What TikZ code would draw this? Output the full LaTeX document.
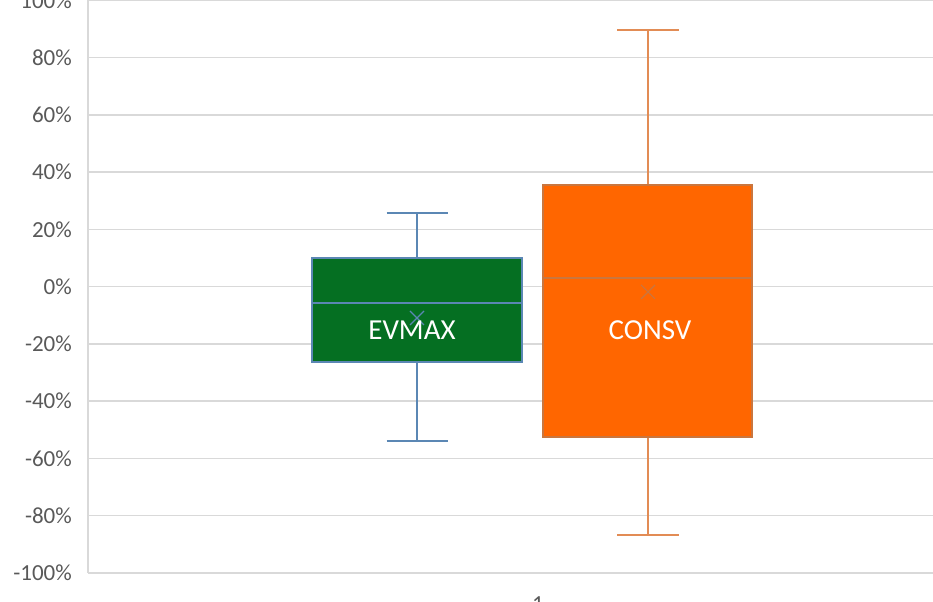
\documentclass[tikz,border=0pt]{standalone}
\usepackage{fontspec}
\setmainfont{Carlito}
\definecolor{GridGray}{HTML}{D9D9D9}
\definecolor{TickGray}{HTML}{595959}
\definecolor{EvGreen}{HTML}{056F22}
\definecolor{EvBlue}{HTML}{5B87B4}
\definecolor{ConsOrange}{HTML}{FF6600}
\definecolor{ConsEdge}{HTML}{C9763F}
\definecolor{ConsWhisk}{HTML}{E28C55}

\begin{document}
\begin{tikzpicture}[x=1pt, y=2.8625pt,
        gridline/.style={GridGray, line width=1.5pt},
        ticklabel/.style={anchor=east, inner sep=0pt, text=TickGray, font=\fontsize{23}{23}\selectfont},
        evline/.style={EvBlue, line width=1.5pt},
        consline/.style={ConsWhisk, line width=1.5pt},
        evbox/.style={fill=EvGreen, draw=EvBlue, line width=1.5pt},
        consbox/.style={fill=ConsOrange, draw=ConsEdge, line width=1.5pt},
        boxlabel/.style={anchor=base, inner sep=0pt, text=white, font=\fontsize{29}{29}\selectfont}]
        \useasboundingbox (0,-110.13) rectangle (933,100.17);

        % grid and axis
        \foreach \v in {-100,-80,...,100} {
            \draw[gridline] (88,\v) -- (933,\v);
            \node[ticklabel] (tick\v) at (72,\v) {\v\%};
        }
        \draw[gridline] (88,-100) -- (88,100);
        \node[anchor=base, inner sep=0pt, text=TickGray, font=\fontsize{23}{23}\selectfont] (cat) at (538,-113.3) {1};

        % EVMAX
        \coordinate (evtop) at (417,10.0);
        \coordinate (evbot) at (417,-26.3);
        \coordinate (evmax) at (417,25.8);
        \coordinate (evmin) at (417,-53.9);
        \draw[evline] (evtop) -- (evmax);
        \draw[evline] (evbot) -- (evmin);
        \draw[evline] ([xshift=-30.5pt]evmax) -- ([xshift=30.5pt]evmax);
        \draw[evline] ([xshift=-30.5pt]evmin) -- ([xshift=30.5pt]evmin);
        \draw[evbox] (312,-26.3) rectangle (522,10.0);
        \draw[evline] (312,-5.7) -- (522,-5.7);
        \coordinate (evmean) at (417,-10.9);
        \draw[evline, line width=1.2pt] ([shift={(-7pt,-7pt)}]evmean) -- ([shift={(7pt,7pt)}]evmean)
            ([shift={(-7pt,7pt)}]evmean) -- ([shift={(7pt,-7pt)}]evmean);
        \node[boxlabel] (evname) at (412,-18.6) {EVMAX};

        % CONSV
        \coordinate (cstop) at (648,35.5);
        \coordinate (csbot) at (648,-52.5);
        \coordinate (csmax) at (648,89.7);
        \coordinate (csmin) at (648,-86.7);
        \draw[consline] (cstop) -- (csmax);
        \draw[consline] (csbot) -- (csmin);
        \draw[consline] ([xshift=-31pt]csmax) -- ([xshift=31pt]csmax);
        \draw[consline] ([xshift=-31pt]csmin) -- ([xshift=31pt]csmin);
        \draw[consbox] (543,-52.5) rectangle (752,35.5);
        \draw[ConsEdge, line width=1.5pt] (543,3.1) -- (752,3.1);
        \coordinate (csmean) at (648,-1.8);
        \draw[ConsEdge, line width=1.2pt] ([shift={(-7pt,-7pt)}]csmean) -- ([shift={(7pt,7pt)}]csmean)
            ([shift={(-7pt,7pt)}]csmean) -- ([shift={(7pt,-7pt)}]csmean);
        \node[boxlabel] (csname) at (650,-18.6) {CONSV};
\end{tikzpicture}
\end{document}
